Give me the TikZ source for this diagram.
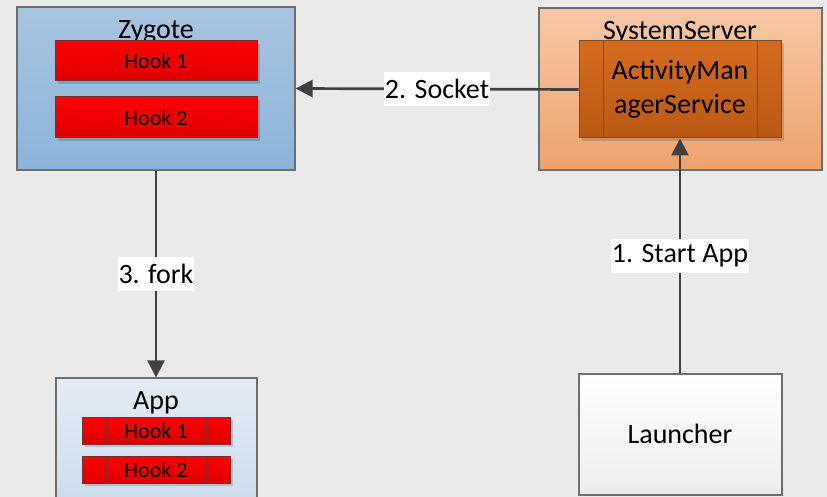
\documentclass[tikz,border=0pt]{standalone}
\usepackage{fontspec}
\setmainfont{Carlito}
\usetikzlibrary{arrows.meta,shadows}
\definecolor{bg}{HTML}{EAEAEA}
\definecolor{boxline}{HTML}{6E6E6E}
\definecolor{arrowc}{HTML}{404040}
\definecolor{zygtop}{HTML}{A8C5E0}
\definecolor{zygbot}{HTML}{8CB3D8}
\definecolor{sstop}{HTML}{F6C8A6}
\definecolor{ssbot}{HTML}{EEA26C}
\definecolor{amstop}{HTML}{D56B1F}
\definecolor{amsbot}{HTML}{BA5914}
\definecolor{amsline}{HTML}{7A4A2A}
\definecolor{hooktop}{HTML}{FF0000}
\definecolor{hookbot}{HTML}{DF0000}
\definecolor{hookline}{HTML}{7A2E2E}
\definecolor{apptop}{HTML}{E4ECF5}
\definecolor{appbot}{HTML}{CCDCEC}
\definecolor{lntop}{HTML}{FFFFFF}
\definecolor{lnbot}{HTML}{ECECEC}
\begin{document}
\begin{tikzpicture}[x=1pt,y=-1pt,
  box/.style={rectangle, draw=boxline, line width=1.2pt, inner sep=0pt},
  bigfont/.style={font=\fontsize{28}{32}\selectfont},
  hookfont/.style={font=\fontsize{22}{26}\selectfont},
  subproc/.style={rectangle, inner sep=0pt, draw=#1, line width=1pt,
    drop shadow={shadow xshift=3pt, shadow yshift=-3pt, fill=black, opacity=0.15},
    path picture={\draw[#1, line width=1pt]
      ([xshift=24pt]path picture bounding box.north west) -- ([xshift=24pt]path picture bounding box.south west)
      ([xshift=-24pt]path picture bounding box.north east) -- ([xshift=-24pt]path picture bounding box.south east);}},
  hook/.style={subproc=hookline, top color=hooktop, bottom color=hookbot, hookfont},
  conn/.style={draw=arrowc, line width=2.7pt, -{Triangle[length=17pt,width=17pt]}},
  lbl/.style={fill=white, inner xsep=1pt, inner ysep=0pt, minimum height=34pt, bigfont}
]
\useasboundingbox (0,0) rectangle (827,497);
\clip (0,0) rectangle (827,497);
\fill[bg] (0,0) rectangle (827,497);

% Zygote
\node[box, top color=zygtop, bottom color=zygbot, minimum width=278pt, minimum height=163pt] (zyg) at (156,88.5) {};
\node[bigfont, anchor=base, inner sep=0pt] (zygt) at (156,39) {Zygote};
\node[hook, minimum width=202pt, minimum height=40pt] (zh1) at (156,61) {Hook 1};
\node[hook, minimum width=202pt, minimum height=41pt] (zh2) at (156,117.5) {Hook 2};

% SystemServer
\node[box, top color=sstop, bottom color=ssbot, minimum width=283pt, minimum height=162pt] (ss) at (680.5,89) {};
\node[bigfont, anchor=base, inner sep=0pt] (sst) at (680,39.5) {SystemServer};
\node[subproc=amsline, top color=amstop, bottom color=amsbot, minimum width=202pt, minimum height=97pt,
      align=center, font=\fontsize{28}{34}\selectfont] (ams) at (680,89.5) {ActivityMan\\agerService};

% App
\node[box, top color=apptop, bottom color=appbot, minimum width=201pt, minimum height=127pt] (app) at (156.5,441.5) {};
\node[bigfont, anchor=base, inner sep=0pt] (appt) at (156,409) {App};
\node[hook, minimum width=148pt, minimum height=27pt] (ah1) at (156,430.5) {Hook 1};
\node[hook, minimum width=148pt, minimum height=27pt] (ah2) at (156,469.5) {Hook 2};

% Launcher
\node[box, top color=lntop, bottom color=lnbot, minimum width=203pt, minimum height=121pt] (ln) at (680.5,434.5) {};
\node[bigfont, anchor=base, inner sep=0pt] (lnt) at (680,443) {Launcher};

% connectors
\draw[conn] (ams.west) -- (zyg.east) node[lbl, pos=0.5] (l2) {2. Socket};
\draw[conn] (zyg.south) -- (zyg.south |- app.north) node[lbl, pos=0.5] (l3) {3. fork};
\draw[conn] (ln.north -| ams.south) -- (ams.south) node[lbl, pos=0.5] (l1) {1. Start App};
\end{tikzpicture}
\end{document}
